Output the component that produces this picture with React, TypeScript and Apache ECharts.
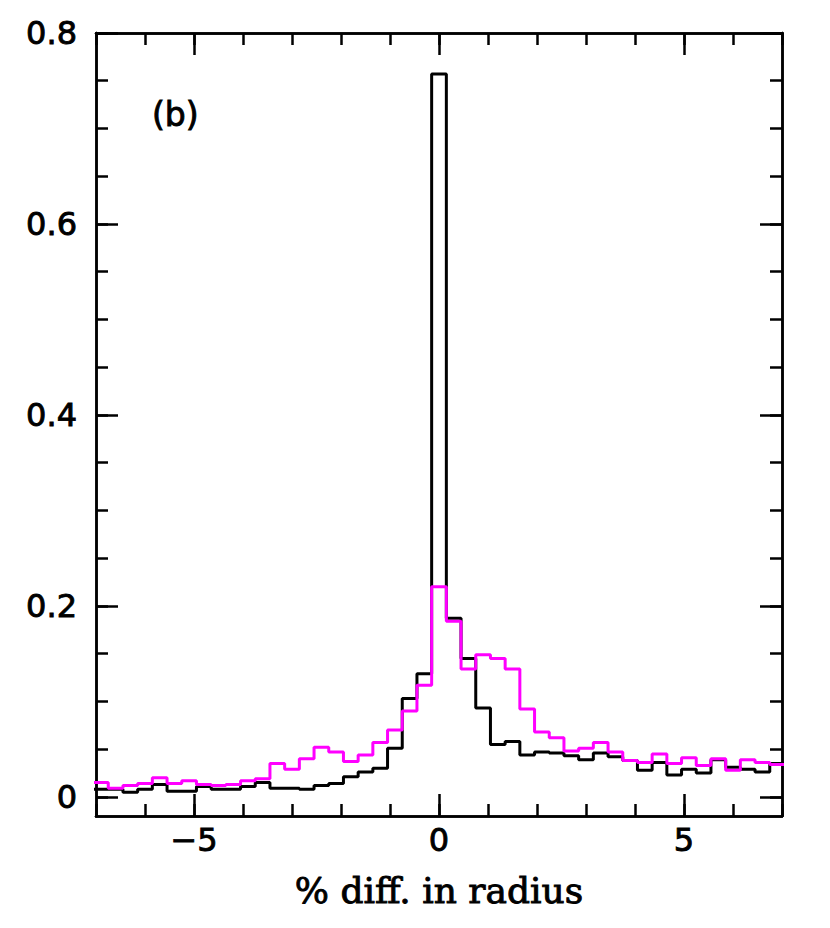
import React, { useEffect, useRef } from 'react';
import * as echarts from 'echarts';

// Histogram bins: left edge of first bin and bin width (in % diff. in radius)
const BIN_START = -7.05;
const BIN_WIDTH = 0.3;

// Fraction per bin (bins centred on -6.9 ... 6.9)
const blackValues = [
  0.008, 0.008, 0.005, 0.008, 0.013, 0.006, 0.006, 0.011, 0.008, 0.008,
  0.011, 0.015, 0.009, 0.009, 0.008, 0.012, 0.014, 0.021, 0.026, 0.030,
  0.051, 0.103, 0.129, 0.757, 0.187, 0.145, 0.093, 0.055, 0.058, 0.044,
  0.047, 0.046, 0.043, 0.039, 0.046, 0.042, 0.038, 0.028, 0.036, 0.023,
  0.029, 0.025, 0.039, 0.031, 0.029, 0.026, 0.035,
];
const magentaValues = [
  0.015, 0.009, 0.012, 0.014, 0.020, 0.014, 0.017, 0.013, 0.012, 0.013,
  0.017, 0.019, 0.035, 0.029, 0.040, 0.052, 0.047, 0.037, 0.044, 0.057,
  0.070, 0.090, 0.117, 0.220, 0.184, 0.134, 0.149, 0.145, 0.134, 0.092,
  0.068, 0.062, 0.048, 0.051, 0.057, 0.047, 0.038, 0.036, 0.045, 0.035,
  0.041, 0.033, 0.040, 0.028, 0.039, 0.036, 0.034,
];

const xMajorTicks = [-5, 0, 5];
const xMinorTicks = [-7, -6, -5, -4, -3, -2, -1, 0, 1, 2, 3, 4, 5, 6, 7];
const yMajorTicks = [0, 0.2, 0.4, 0.6, 0.8];
const yMinorTicks = [
  0, 0.05, 0.1, 0.15, 0.2, 0.25, 0.3, 0.35, 0.4, 0.45, 0.5, 0.55, 0.6, 0.65,
  0.7, 0.75, 0.8,
];
const xTitle = '% diff. in radius';
const panelLabel = '(b)';

function stepData(values: number[]) {
  const pts: number[][] = values.map((v, i) => [
    +(BIN_START + i * BIN_WIDTH).toFixed(3),
    v,
  ]);
  pts.push([
    +(BIN_START + values.length * BIN_WIDTH).toFixed(3),
    values[values.length - 1],
  ]);
  return pts;
}

const LABEL_FONT = '"DejaVu Sans", sans-serif';

function xAxisDef(position: string, ticks: number[], len: number, label: boolean) {
  return {
    type: 'value',
    min: -7,
    max: 7,
    position,
    axisLine: { show: true, onZero: false, lineStyle: { color: '#000', width: 2.5 } },
    axisTick: {
      show: true,
      inside: true,
      length: len,
      customValues: ticks,
      lineStyle: { color: '#000', width: 2.5 },
    },
    axisLabel: {
      show: label,
      customValues: ticks,
      margin: 8,
      color: '#000',
      fontSize: 32,
      fontFamily: LABEL_FONT,
      textBorderColor: '#000',
      textBorderWidth: 0.9,
      formatter: (v: number) => String(v).replace('-', '\u2212'),
    },
    splitLine: { show: false },
  };
}

function yAxisDef(position: string, ticks: number[], len: number, label: boolean) {
  return {
    type: 'value',
    min: -0.02,
    max: 0.8,
    position,
    axisLine: { show: true, onZero: false, lineStyle: { color: '#000', width: 2.5 } },
    axisTick: {
      show: true,
      inside: true,
      length: len,
      customValues: ticks,
      lineStyle: { color: '#000', width: 2.5 },
    },
    axisLabel: {
      show: label,
      customValues: ticks,
      margin: 19,
      color: '#000',
      fontSize: 32,
      fontFamily: LABEL_FONT,
      textBorderColor: '#000',
      textBorderWidth: 0.9,
      formatter: (v: number) => (v === 0 ? '0' : v.toFixed(1)),
    },
    splitLine: { show: false },
  };
}

export default function App() {
  const ref = useRef<HTMLDivElement>(null);

  useEffect(() => {
    document.body.style.margin = '0';
    if (!ref.current) return;
    const chart = echarts.init(ref.current, undefined, { renderer: 'svg' });
    chart.setOption({
      animation: false,
      backgroundColor: '#fff',
      grid: { left: 96, right: 48, top: 33, bottom: 112, containLabel: false },
      xAxis: [
        xAxisDef('bottom', xMajorTicks, 22, true),
        xAxisDef('bottom', xMinorTicks, 12, false),
        xAxisDef('top', xMajorTicks, 22, false),
        xAxisDef('top', xMinorTicks, 12, false),
      ],
      yAxis: [
        yAxisDef('left', yMajorTicks, 22, true),
        yAxisDef('left', yMinorTicks, 12, false),
        yAxisDef('right', yMajorTicks, 22, false),
        yAxisDef('right', yMinorTicks, 12, false),
      ],
      series: [
        {
          type: 'line',
          step: 'end',
          xAxisIndex: 0,
          yAxisIndex: 0,
          data: stepData(blackValues),
          symbol: 'none',
          clip: true,
          lineStyle: { color: '#000000', width: 3 },
          z: 2,
        },
        {
          type: 'line',
          step: 'end',
          xAxisIndex: 0,
          yAxisIndex: 0,
          data: stepData(magentaValues),
          symbol: 'none',
          clip: true,
          lineStyle: { color: '#ff00ff', width: 3 },
          z: 3,
        },
      ],
      graphic: [
        {
          type: 'text',
          x: 152,
          y: 114,
          style: {
            text: panelLabel,
            fontSize: 33,
            fontFamily: '"DejaVu Sans", sans-serif',
            fill: '#000',
            stroke: '#000',
            lineWidth: 0.9,
            textVerticalAlign: 'middle',
            textAlign: 'left',
          },
        },
        {
          type: 'text',
          x: 439,
          y: 890,
          style: {
            text: xTitle,
            fontSize: 36,
            fontFamily: '"DejaVu Serif", serif',
            fill: '#000',
            stroke: '#000',
            lineWidth: 0.9,
            textVerticalAlign: 'middle',
            textAlign: 'center',
          },
        },
      ],
    });
    return () => chart.dispose();
  }, []);

  return <div ref={ref} style={{ width: 830, height: 928 }} />;
}
